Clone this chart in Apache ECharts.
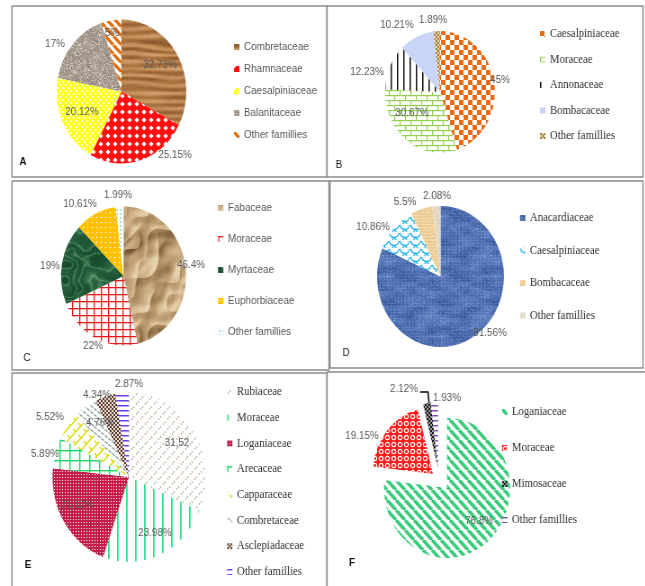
<!DOCTYPE html>
<html>
<head>
<meta charset="utf-8">
<script src="https://cdn.jsdelivr.net/npm/echarts@6/dist/echarts.min.js"></script>
<style>
  html, body { margin: 0; padding: 0; background: #fff; overflow: hidden; width: 645px; height: 586px; }
  /* the figure is laid out wider and condensed horizontally, like the printed plates */
  #c { position: absolute; left: 0; top: 0; width: 717px; height: 586px; transform: scaleX(0.9); transform-origin: 0 0; }
</style>
</head>
<body>
<div id="c"></div>
<script>
// ---- family shares (%) for each site ----
const famA = ['Combretaceae', 'Rhamnaceae', 'Caesalpiniaceae', 'Balanitaceae', 'Other famillies'];
const pctA = [32.73, 25.15, 20.12, 17, 5];

const famB = ['Caesalpiniaceae', 'Moraceae', 'Annonaceae', 'Bombacaceae', 'Other famillies'];
const pctB = [45, 30.67, 12.23, 10.21, 1.89];

const famC = ['Fabaceae', 'Moraceae', 'Myrtaceae', 'Euphorbiaceae', 'Other famillies'];
const pctC = [46.4, 22, 19, 10.61, 1.99];

const famD = ['Anacardiaceae', 'Caesalpiniaceae', 'Bombacaceae', 'Other famillies'];
const pctD = [81.56, 10.86, 5.5, 2.08];

const famE = ['Rubiaceae', 'Moraceae', 'Loganiaceae', 'Arecaceae', 'Capparaceae', 'Combretaceae', 'Asclepiadaceae', 'Other famillies'];
const pctE = [31.52, 23.98, 21.12, 5.89, 5.52, 4.76, 4.34, 2.87];

const famF = ['Loganiaceae', 'Moraceae', 'Mimosaceae', 'Other famillies'];
const pctF = [76.8, 19.15, 2.12, 1.93];

const SX = 0.9;            // horizontal condensing of the whole figure
const W = Math.round(645 / SX), H = 586;
const SANS = "'Liberation Sans', Arial, sans-serif";
const SERIF = "'Liberation Serif', 'Times New Roman', serif";

// ---------- texture helpers ----------
function tile(w, h, draw) {
  const c = document.createElement('canvas');
  c.width = w; c.height = h;
  const g = c.getContext('2d');
  draw(g, w, h);
  return { image: c, repeat: 'repeat' };
}
function rng(seed) {
  let a = seed >>> 0;
  return function () {
    a = (a + 0x6D2B79F5) | 0;
    let t = Math.imul(a ^ (a >>> 15), 1 | a);
    t = (t + Math.imul(t ^ (t >>> 7), 61 | t)) ^ t;
    return ((t ^ (t >>> 14)) >>> 0) / 4294967296;
  };
}
// smooth value noise that wraps on a w x h tile
function noise2(w, h, cx, cy, seed) {
  const r = rng(seed), gw = w / cx, gh = h / cy, grid = [];
  for (let i = 0; i < gw * gh; i++) grid.push(r());
  const at = (i, j) => grid[(((j % gh) + gh) % gh) * gw + (((i % gw) + gw) % gw)];
  return (x, y) => {
    const fx = x / cx, fy = y / cy, x0 = Math.floor(fx), y0 = Math.floor(fy);
    let tx = fx - x0, ty = fy - y0;
    tx = tx * tx * (3 - 2 * tx); ty = ty * ty * (3 - 2 * ty);
    const a = at(x0, y0), b = at(x0 + 1, y0), c = at(x0, y0 + 1), d = at(x0 + 1, y0 + 1);
    return a + (b - a) * tx + (c - a) * ty + (a - b - c + d) * tx * ty;
  };
}
const hex = s => [parseInt(s.slice(1, 3), 16), parseInt(s.slice(3, 5), 16), parseInt(s.slice(5, 7), 16)];
const clamp = v => Math.max(0, Math.min(1, v));
function ramp(stops) {
  const cs = stops.map(hex);
  return t => {
    t = clamp(t) * (cs.length - 1);
    const i = Math.min(cs.length - 2, Math.floor(t)), f = t - i;
    return [0, 1, 2].map(k => cs[i][k] + (cs[i + 1][k] - cs[i][k]) * f);
  };
}
function texture(w, h, fn) {
  return tile(w, h, g => {
    const img = g.createImageData(w, h);
    for (let y = 0; y < h; y++) for (let x = 0; x < w; x++) {
      const c = fn(x, y), o = (y * w + x) * 4;
      img.data[o] = c[0]; img.data[o + 1] = c[1]; img.data[o + 2] = c[2]; img.data[o + 3] = 255;
    }
    g.putImageData(img, 0, 0);
  });
}
function checker(size, a, b) {
  return tile(size * 2, size * 2, g => {
    g.fillStyle = b; g.fillRect(0, 0, size * 2, size * 2);
    g.fillStyle = a; g.fillRect(0, 0, size, size); g.fillRect(size, size, size, size);
  });
}
function diag(s, bg, fg, lw, back) {
  return tile(s, s, g => {
    g.fillStyle = bg; g.fillRect(0, 0, s, s);
    g.strokeStyle = fg; g.lineWidth = lw; g.beginPath();
    for (const k of [-s, 0, s]) {
      if (back) { g.moveTo(k, 0); g.lineTo(k + s, s); } else { g.moveTo(k, s); g.lineTo(k + s, 0); }
    }
    g.stroke();
  });
}
function lines(w, h, bg, fg, vertical, lw) {
  return tile(w, h, g => {
    g.fillStyle = bg; g.fillRect(0, 0, w, h);
    g.fillStyle = fg; vertical ? g.fillRect(0, 0, lw, h) : g.fillRect(0, 0, w, lw);
  });
}
function grid(w, h, bg, fg, lw) {
  return tile(w, h, g => {
    g.fillStyle = bg; g.fillRect(0, 0, w, h);
    g.fillStyle = fg; g.fillRect(0, 0, lw, h); g.fillRect(0, 0, w, lw);
  });
}
function brick(w, h, bg, fg, lw) {
  return tile(w, h, g => {
    g.fillStyle = bg; g.fillRect(0, 0, w, h);
    g.fillStyle = fg;
    g.fillRect(0, 0, w, lw); g.fillRect(0, h / 2, w, lw);
    g.fillRect(0, 0, lw, h / 2); g.fillRect(w / 2, h / 2, lw, h / 2);
  });
}
function dots(w, h, bg, fg, pts, rad) {
  return tile(w, h, g => {
    g.fillStyle = bg; g.fillRect(0, 0, w, h);
    g.fillStyle = fg;
    pts.forEach(p => { g.beginPath(); g.arc(p[0], p[1], rad, 0, Math.PI * 2); g.fill(); });
  });
}

// ---------- fills ----------
const woodFill = (() => {
  const warp = noise2(96, 96, 48, 16, 11), grain = noise2(96, 96, 24, 3, 12), r = rng(13);
  const col = ramp(['#74471f', '#a06a3a', '#bf8a55', '#d6a874']);
  return texture(96, 96, (x, y) => {
    const s = 0.5 + 0.5 * Math.sin(2 * Math.PI * (y + warp(x, y) * 10) * 12 / 96);
    return col(0.15 + 0.45 * s + 0.35 * grain(x, y) + (r() - 0.5) * 0.12);
  });
})();
const graniteFill = (() => {
  const r = rng(21), n = noise2(48, 48, 8, 8, 22);
  const col = ramp(['#756b61', '#9f9487', '#b3a89b', '#ddd6cc']);
  return texture(48, 48, (x, y) => {
    const v = r();
    return col(v < 0.15 ? 0.12 + v : v > 0.85 ? 0.95 : 0.52 + (n(x, y) - 0.5) * 0.4);
  });
})();
const marbleFill = (() => {
  const n1 = noise2(96, 96, 24, 24, 31), n2 = noise2(96, 96, 8, 8, 32), r = rng(33);
  const col = ramp(['#0d3320', '#1f5534', '#3b7a52', '#7fb38e']);
  return texture(96, 96, (x, y) => {
    const v = Math.abs(Math.sin((n1(x, y) * 2 + n2(x, y) * 0.6) * 7));
    return col(0.2 + 0.45 * (1 - v) * (1 - v) + 0.25 * n2(x, y) + (r() - 0.5) * 0.1);
  });
})();
// crumpled kraft paper: ridged height field lit from the upper left
const crumpleFill = (() => {
  const n1 = noise2(96, 96, 32, 32, 41), n2 = noise2(96, 96, 16, 16, 42), n3 = noise2(96, 96, 8, 8, 44), r = rng(43);
  const col = ramp(['#6f5232', '#a7855b', '#c8a97f', '#e6d1ad']);
  const ridge = v => 1 - Math.abs(2 * v - 1);
  const h = (x, y) => ridge(n1(x, y)) + 0.6 * ridge(n2(x, y)) + 0.25 * n3(x, y);
  return texture(96, 96, (x, y) => {
    const d = (h(x + 1, y + 1) - h(x, y)) * 4.5;
    return col(0.6 + d + (r() - 0.5) * 0.05);
  });
})();
const weaveFill = (() => {
  const r = rng(51), n = noise2(60, 60, 12, 4, 52);
  const col = ramp(['#2c4a88', '#4b6cb0', '#6d8cc8', '#a9bde4']);
  return texture(60, 60, (x, y) => {
    const cell = ((x % 4) === 0 ? -0.12 : 0) + ((y % 3) === 0 ? 0.1 : 0);
    return col(0.42 + cell + (n(x, y) - 0.5) * 0.35 + (r() - 0.5) * 0.3);
  });
})();
const tanFill = (() => {
  const r = rng(61);
  const col = ramp(['#d9b479', '#eecd95', '#f8e3bb']);
  return texture(40, 40, (x, y) => col(0.5 + ((y % 3) === 0 ? 0.25 : 0) + (r() - 0.5) * 0.35));
})();
const beigeFill = (() => {
  const r = rng(71);
  const col = ramp(['#cfc0a6', '#e4d8c4', '#f3ece1']);
  return texture(40, 40, (x, y) => col(0.5 + ((x % 3) === 0 ? 0.2 : 0) + (r() - 0.5) * 0.4));
})();
const redDiamonds = tile(8, 8, g => {
  g.fillStyle = '#ff1010'; g.fillRect(0, 0, 8, 8);
  g.fillStyle = '#ffffff';
  [[0, 0], [8, 0], [0, 8], [8, 8]].forEach(([cx, cy]) => {
    g.beginPath(); g.moveTo(cx, cy - 2.6); g.lineTo(cx + 2.6, cy); g.lineTo(cx, cy + 2.6); g.lineTo(cx - 2.6, cy); g.closePath(); g.fill();
  });
});
const yellowPlaid = tile(6, 6, g => {
  g.fillStyle = '#ffff20'; g.fillRect(0, 0, 6, 6);
  g.fillStyle = '#ffffff'; g.fillRect(0, 0, 2, 2); g.fillRect(3, 3, 2, 2);
});
const scales = tile(12, 8, g => {
  g.fillStyle = '#ffffff'; g.fillRect(0, 0, 12, 8);
  g.strokeStyle = '#22b4ec'; g.lineWidth = 1.3;
  g.beginPath(); g.arc(6, 0, 5.5, 0.15, Math.PI - 0.15); g.stroke();
  g.beginPath(); g.arc(0, 4, 5.5, 0.15, Math.PI / 2); g.stroke();
  g.beginPath(); g.arc(12, 4, 5.5, Math.PI / 2, Math.PI - 0.15); g.stroke();
  g.beginPath(); g.arc(6, 8, 5.5, 0.15, Math.PI - 0.15); g.stroke();
});
const redRings = tile(7, 7, g => {
  g.fillStyle = '#ff1a1a'; g.fillRect(0, 0, 7, 7);
  g.strokeStyle = '#ffffff'; g.lineWidth = 1.2;
  g.beginPath(); g.arc(3.5, 3.5, 2.2, 0, Math.PI * 2); g.stroke();
});
const yellowDiagBrick = tile(12, 12, g => {
  g.fillStyle = '#ffffff'; g.fillRect(0, 0, 12, 12);
  g.strokeStyle = '#d8d800'; g.lineWidth = 1.4; g.beginPath();
  for (const k of [-12, 0, 12]) { g.moveTo(k, 12); g.lineTo(k + 12, 0); }
  g.moveTo(3, 3); g.lineTo(6, 6); g.moveTo(9, 9); g.lineTo(12, 12);
  g.moveTo(-3, 9); g.lineTo(0, 12); g.moveTo(9, -3); g.lineTo(12, 0);
  g.stroke();
});
const grayDashes = tile(8, 6, g => {
  g.fillStyle = '#ffffff'; g.fillRect(0, 0, 8, 6);
  g.strokeStyle = '#7c9c8c'; g.lineWidth = 1.3; g.beginPath();
  g.moveTo(0.5, 0.5); g.lineTo(3.5, 2.5); g.moveTo(4.5, 3.5); g.lineTo(7.5, 5.5);
  g.stroke();
});

const fillsA = [woodFill, redDiamonds, yellowPlaid, graniteFill, diag(9, '#ffffff', '#e46c0a', 3.2, true)];
const fillsB = [checker(5, '#ea6a12', '#ffffff'), brick(12, 10, '#ffffff', '#92d050', 1.2),
  lines(7, 2, '#ffffff', '#111111', true, 1.5), '#c8d5f7', checker(2, '#a07c38', '#e8d7a8')];
const fillsC = [crumpleFill, grid(8, 7, '#ffffff', '#e01b1b', 1.3), marbleFill,
  dots(5, 5, '#ffc000', '#ffffff', [[2.5, 2.5]], 0.8), dots(4, 4, '#ffffff', '#34b8e8', [[2, 2]], 0.8)];
const fillsD = [weaveFill, scales, tanFill, beigeFill];
const fillsE = [dots(10, 10, '#ffffff', '#a88f74', [[1.5, 4], [3.5, 2], [6.5, 9], [8.5, 7]], 0.8),
  lines(10, 2, '#ffffff', '#2fe08a', true, 1.8),
  tile(3, 3, g => { g.fillStyle = '#c41e4a'; g.fillRect(0, 0, 3, 3); g.fillStyle = '#ffffff'; g.fillRect(0, 0, 1, 1); }),
  grid(11, 10, '#ffffff', '#16d46a', 1.4), yellowDiagBrick, grayDashes,
  checker(2, '#5b3a2a', '#e8e0d8'), lines(2, 5, '#ffffff', '#6a3cf0', false, 1.5)];
const fillsF = [diag(10, '#ffffff', '#3acb7d', 3.6, true), redRings,
  checker(2, '#1a1a1a', '#9a9a9a'), lines(2, 5, '#ffffff', '#7d4bb3', false, 1.5)];

// ---------- panel layout (page pixels) ----------
const panels = [
  { key: 'A', fam: famA, pct: pctA, fills: fillsA, frame: [12, 6, 315, 171], tag: ['A', 23, 162, true],
    pies: [{ idx: [0, 1, 2, 3, 4], c: [121.5, 91.5], r: 72 }],
    labelAt: [[160, 65], [175, 155], [82, 112], [55, 44], [112, 33]],
    legend: { x: 234, y: 47, dy: 22, font: SANS, size: 11, color: '#595959' } },
  { key: 'B', fam: famB, pct: pctB, fills: fillsB, frame: [327, 6, 316, 171], tag: ['B', 339, 165, false],
    pies: [{ idx: [0, 1, 2, 3, 4], c: [440, 92], r: 61 }],
    labelAt: [[500, 80], [412, 113], [367, 72], [397, 25], [433, 20]],
    legend: { x: 540, y: 34, dy: 25.5, font: SERIF, size: 12, color: '#303030' } },
  { key: 'C', fam: famC, pct: pctC, fills: fillsC, frame: [12, 181, 317, 189], tag: ['C', 27, 358, false],
    pies: [{ idx: [0, 1, 2, 3, 4], c: [123.5, 276], r: 69.5 }],
    labelAt: [[191, 265], [93, 346], [50, 266], [80, 204], [118, 195]],
    legend: { x: 218, y: 208, dy: 31, font: SANS, size: 11, color: '#595959' } },
  { key: 'D', fam: famD, pct: pctD, fills: fillsD, frame: [330, 181, 313, 187], tag: ['D', 346, 353, false],
    pies: [{ idx: [0, 1, 2, 3], c: [440.5, 276.5], r: 70.5 }],
    labelAt: [[490, 333], [373, 227], [405, 202], [437, 196]],
    legend: { x: 520, y: 218, dy: 32.5, font: SERIF, size: 12, color: '#303030' } },
  { key: 'E', fam: famE, pct: pctE, fills: fillsE, frame: [12, 373, 315, 220], tag: ['E', 28, 565, true],
    pies: [{ idx: [0, 1, 2, 3, 4, 5, 6, 7], c: [129, 477], r: 85 }],
    labelAt: [[177, 443], [155, 533], [77, 505], [45, 454], [50, 417], [100, 423], [97, 395], [129, 384]],
    labelText: { 0: v => String(v).replace('.', ',') },
    legend: { x: 227, y: 392, dy: 25.7, font: SERIF, size: 12, color: '#303030' } },
  { key: 'F', fam: famF, pct: pctF, fills: fillsF, frame: [327, 372, 325, 220], tag: ['F', 352, 563, true],
    pies: [{ idx: [0], c: [447, 488], r: 70 }, { idx: [1], c: [433, 474], r: 67 }, { idx: [2, 3], c: [438, 468], r: 66 }],
    labelAt: [[479, 521], [362, 436], [404, 389], [447, 398]],
    leader: { 2: [[420, 392], [428, 392], [429, 403]] },
    legend: { x: 502, y: 412, dy: 36, font: SERIF, size: 12, color: '#303030' } }
];

// ---------- build option ----------
const series = [], labelSeries = [], legends = [], graphics = [];
const CLEAR = 'rgba(0,0,0,0)';
panels.forEach(p => {
  // one pie per exploded group; wedges outside the group stay invisible so angles stay true
  p.pies.forEach(pie => {
    const base = {
      type: 'pie', silent: true, animation: false,
      startAngle: 90, clockwise: true, avoidLabelOverlap: false,
      center: [pie.c[0] / SX, pie.c[1]], radius: pie.r,
      emphasis: { disabled: true },
      itemStyle: { borderWidth: 0 }
    };
    // wedges with their hatch/texture fills
    series.push(Object.assign({}, base, {
      z: 2,
      label: { show: false }, labelLine: { show: false },
      data: p.pct.map((v, i) => {
        const on = pie.idx.includes(i);
        return {
          name: on ? p.fam[i] + '@' + p.key : '~' + p.key + i,
          value: v,
          itemStyle: { color: on ? p.fills[i] : CLEAR }
        };
      })
    }));
    // percentage labels, kept on a layer above every wedge
    labelSeries.push(Object.assign({}, base, {
      z: 5,
      label: { show: true, position: 'outside', fontFamily: SANS, fontSize: 11, color: '#595959' },
      labelLine: { show: false },
      data: p.pct.map((v, i) => {
        const on = pie.idx.includes(i);
        const txt = p.labelText && p.labelText[i] ? p.labelText[i](v) : v + '%';
        const lead = p.leader && p.leader[i];
        return {
          name: '#' + p.key + i,
          value: v,
          itemStyle: { color: CLEAR },
          label: { show: on, formatter: txt },
          labelLine: { show: !!(on && lead), lineStyle: { color: '#000', width: 1.5 }, length: 4, length2: 4 }
        };
      }),
      labelLayout: prm => {
        const q = p.labelAt[prm.dataIndex];
        const out = { x: q[0] / SX, y: q[1], align: 'center', verticalAlign: 'middle' };
        const lead = p.leader && p.leader[prm.dataIndex];
        if (lead) out.labelLinePoints = lead.map(pt => [pt[0] / SX, pt[1]]);
        return out;
      }
    }));
  });
  const L = p.legend;
  legends.push({
    orient: 'vertical', left: L.x / SX, top: L.y - 7,
    itemGap: L.dy - 14, itemWidth: 6, itemHeight: 6, icon: 'rect',
    selectedMode: false, padding: 0,
    data: p.fam.map(n => n + '@' + p.key),
    formatter: n => n.split('@')[0],
    textStyle: { fontFamily: L.font, fontSize: L.size, color: L.color, lineHeight: 14 }
  });
  const [fx, fy, fw, fh] = p.frame;
  graphics.push({
    type: 'rect', silent: true, z: 0,
    shape: { x: fx / SX, y: fy, width: fw / SX, height: fh },
    style: { fill: 'none', stroke: '#8c8c8c', lineWidth: 1.5 }
  });
  const [t, tx, ty, bold] = p.tag;
  graphics.push({
    type: 'text', silent: true, z: 10, x: tx / SX, y: ty,
    style: { text: t, font: (bold ? 'bold ' : '') + '11px ' + SANS, fill: '#111111',
      align: 'center', verticalAlign: 'middle', textAlign: 'center', textVerticalAlign: 'middle' }
  });
});

const chart = echarts.init(document.getElementById('c'), null, { renderer: 'canvas', width: W, height: H });
chart.setOption({
  backgroundColor: '#ffffff',
  animation: false,
  legend: legends,
  series: series.concat(labelSeries),
  graphic: graphics
});
</script>
</body>
</html>
